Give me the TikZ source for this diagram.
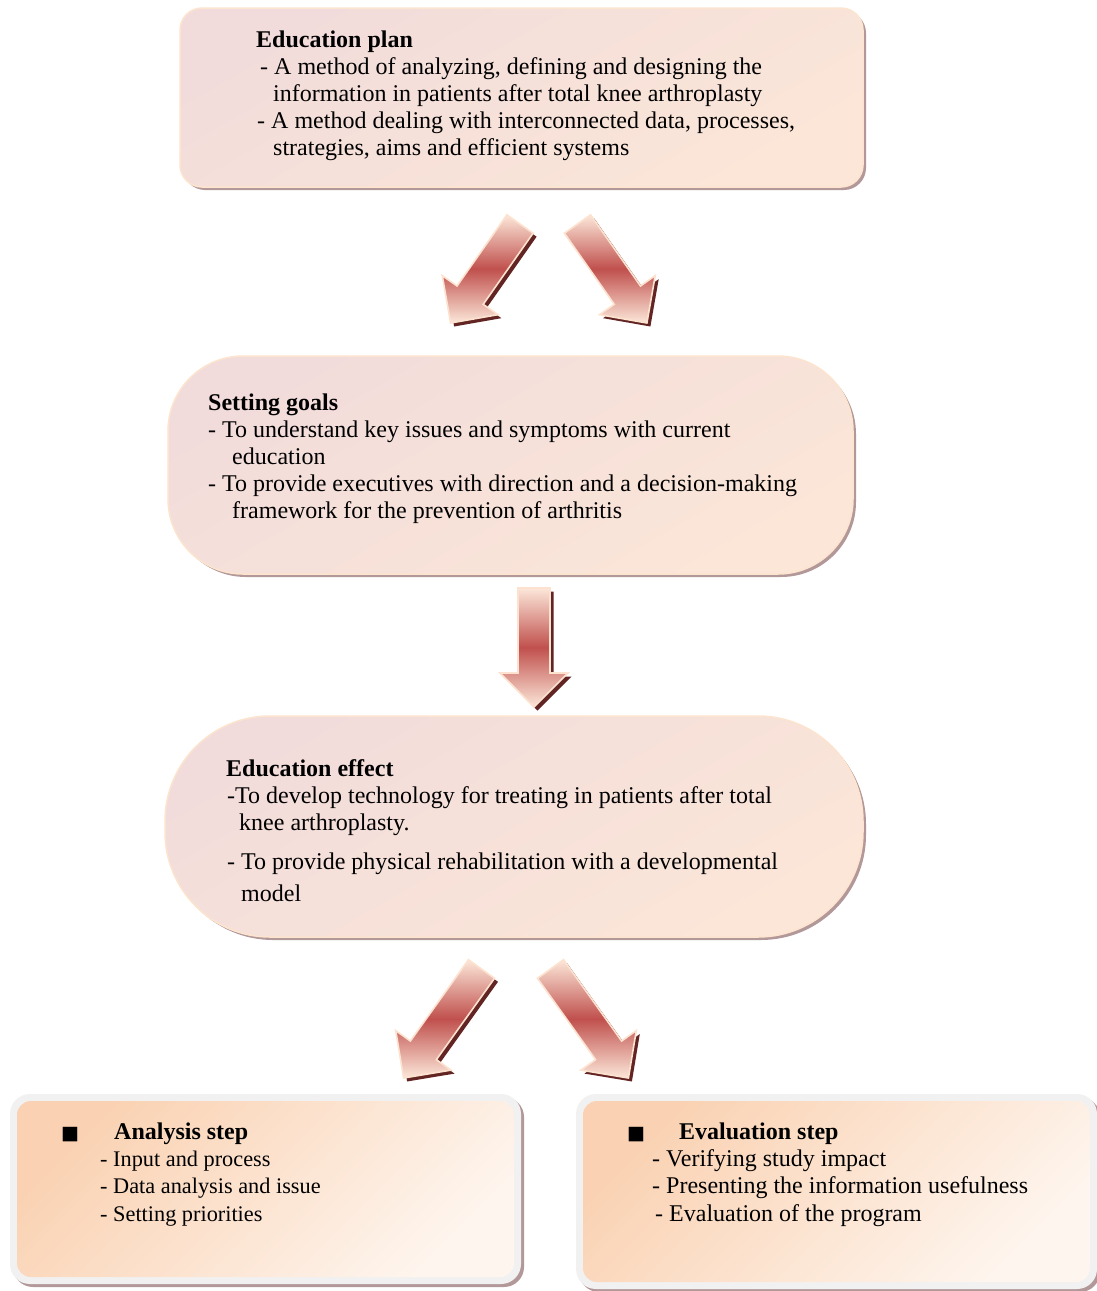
\documentclass[tikz,border=0pt]{standalone}
\usepackage{fontspec}
\setmainfont{Liberation Serif}
\newfontfamily\symfont{DejaVu Sans}
\usetikzlibrary{calc,shadows}
\definecolor{pinkc}{HTML}{F2DCDB}
\definecolor{peachc}{HTML}{FBE6D8}
\definecolor{peachdeep}{HTML}{FAD2B3}
\definecolor{peachlight}{HTML}{FEF5EE}
\definecolor{edgec}{HTML}{FCE4CF}
\definecolor{shadowc}{HTML}{B3989A}
\definecolor{grayedge}{HTML}{F1F1F1}
\definecolor{arrred}{HTML}{C0504D}
\definecolor{arrpeach}{HTML}{FCE7D9}
\definecolor{arrdark}{HTML}{632523}
\definecolor{arredge}{HTML}{FCE2CF}
\tikzset{
  topbox/.style={draw=edgec, line width=1.5pt, inner sep=0pt,
    top color=pinkc, bottom color=peachc, shading angle=30,
    drop shadow={shadow xshift=3pt, shadow yshift=-3pt, fill=shadowc, opacity=1}},
  outerbox/.style={fill=grayedge, inner sep=0pt, rounded corners=20pt,
    drop shadow={shadow xshift=3pt, shadow yshift=-3pt, fill=shadowc, opacity=1}},
  innerbox/.style={inner sep=0pt, rounded corners=14pt,
    top color=peachdeep, bottom color=peachlight, shading angle=45},
  txt/.style={anchor=base west, inner sep=0pt, font=\fontsize{24}{27}\selectfont},
  btxt/.style={anchor=base west, inner sep=0pt, font=\fontsize{24}{27}\selectfont},
  stxt/.style={anchor=base west, inner sep=0pt, font=\fontsize{22.3}{27}\selectfont},
  bul/.style={anchor=base west, inner sep=0pt, font=\symfont\fontsize{19}{20}\selectfont},
  arrbody/.style={draw=arredge, line width=1.6pt, line join=miter,
    top color=arrpeach, bottom color=arrpeach, middle color=arrred},
  arrshadow/.style={fill=arrdark}
}
\newcommand{\blockarrow}[3]{%
  \coordinate (#3b) at ($(#2)!34pt!(#1)$);
  \coordinate (#3p1) at ($(#1)!16pt!90:(#2)$);
  \coordinate (#3p2) at ($(#3b)!16pt!90:(#2)$);
  \coordinate (#3p3) at ($(#3b)!34pt!90:(#2)$);
  \coordinate (#3p5) at ($(#3b)!34pt!-90:(#2)$);
  \coordinate (#3p6) at ($(#3b)!16pt!-90:(#2)$);
  \coordinate (#3p7) at ($(#1)!16pt!-90:(#2)$);
  \fill[arrshadow, transform canvas={xshift=3.5pt,yshift=-3.5pt}]
    (#3p1) -- (#3p2) -- (#3p3) -- (#2) -- (#3p5) -- (#3p6) -- (#3p7) -- cycle;
  \path[arrbody]
    (#3p1) -- (#3p2) -- (#3p3) -- (#2) -- (#3p5) -- (#3p6) -- (#3p7) -- cycle;
}
\begin{document}
\begin{tikzpicture}[x=1pt,y=-1pt]
\useasboundingbox (0,0) rectangle (1097,1291);

% ---------- boxes ----------
\node[topbox, rounded corners=22pt, minimum width=683pt, minimum height=179pt] (plan) at (521.5,97.5) {};
\node[topbox, rounded corners=75pt, minimum width=685pt, minimum height=218pt] (goals) at (510.5,465) {};
\node[topbox, rounded corners=105pt, minimum width=698pt, minimum height=221pt] (effect) at (514,826.5) {};

\node[outerbox, minimum width=511pt, minimum height=190pt] (anaout) at (265.5,1189) {};
\node[innerbox, minimum width=497pt, minimum height=176pt] (ana) at (anaout.center) {};
\node[outerbox, minimum width=521pt, minimum height=195pt] (evaout) at (836.5,1191.5) {};
\node[innerbox, minimum width=507pt, minimum height=181pt] (eva) at (evaout.center) {};

% ---------- arrows ----------
\coordinate (a1t) at (520,224);   \coordinate (a1h) at (450.6,323);
\coordinate (a2t) at (577.5,224); \coordinate (a2h) at (646.9,323);
\coordinate (a3t) at (534,588);   \coordinate (a3h) at (534,707);
\coordinate (a4t) at (481.5,969); \coordinate (a4h) at (403.6,1078);
\coordinate (a5t) at (550.5,969); \coordinate (a5h) at (628.4,1078);
\blockarrow{a1t}{a1h}{ar1}
\blockarrow{a2t}{a2h}{ar2}
\blockarrow{a3t}{a3h}{ar3}
\blockarrow{a4t}{a4h}{ar4}
\blockarrow{a5t}{a5h}{ar5}

% ---------- texts: Education plan ----------
\node[txt] (p0) at (256,47) {\textbf{Education plan}};
\node[txt] (p1) at (260,74) {- A method of analyzing, defining and designing the};
\node[txt] (p2) at (273,101) {information in patients after total knee arthroplasty};
\node[txt] (p3) at (257,128) {- A method dealing with interconnected data, processes,};
\node[txt] (p4) at (273,155) {strategies, aims and efficient systems};

% ---------- Setting goals ----------
\node[txt] (g0) at (208,410) {\textbf{Setting goals}};
\node[txt] (g1) at (208,437) {- To understand key issues and symptoms with current};
\node[txt] (g2) at (232,464) {education};
\node[txt] (g3) at (208,491) {- To provide executives with direction and a decision-making};
\node[txt] (g4) at (232,518) {framework for the prevention of arthritis};

% ---------- Education effect ----------
\node[txt] (e0) at (226,776) {\textbf{Education effect}};
\node[txt] (e1) at (227,803) {-To develop technology for treating in patients after total};
\node[txt] (e2) at (239,830) {knee arthroplasty.};
\node[txt] (e3) at (227,869) {- To provide physical rehabilitation with a developmental};
\node[txt] (e4) at (241,901) {model};

% ---------- Analysis step ----------
\node[bul] (ab) at (61,1139) {■};
\node[btxt] (a0) at (114,1139) {\textbf{Analysis step}};
\node[stxt] (a1) at (100,1166) {- Input and process};
\node[stxt] (a2) at (100,1193) {- Data analysis and issue};
\node[stxt] (a3) at (100,1221) {- Setting priorities};

% ---------- Evaluation step ----------
\node[bul] (vb) at (627,1139) {■};
\node[btxt] (v0) at (679,1139) {\textbf{Evaluation step}};
\node[btxt] (v1) at (652,1166) {- Verifying study impact};
\node[btxt] (v2) at (652,1193) {- Presenting the information usefulness};
\node[btxt] (v3) at (655,1221) {- Evaluation of the program};
\end{tikzpicture}
\end{document}
